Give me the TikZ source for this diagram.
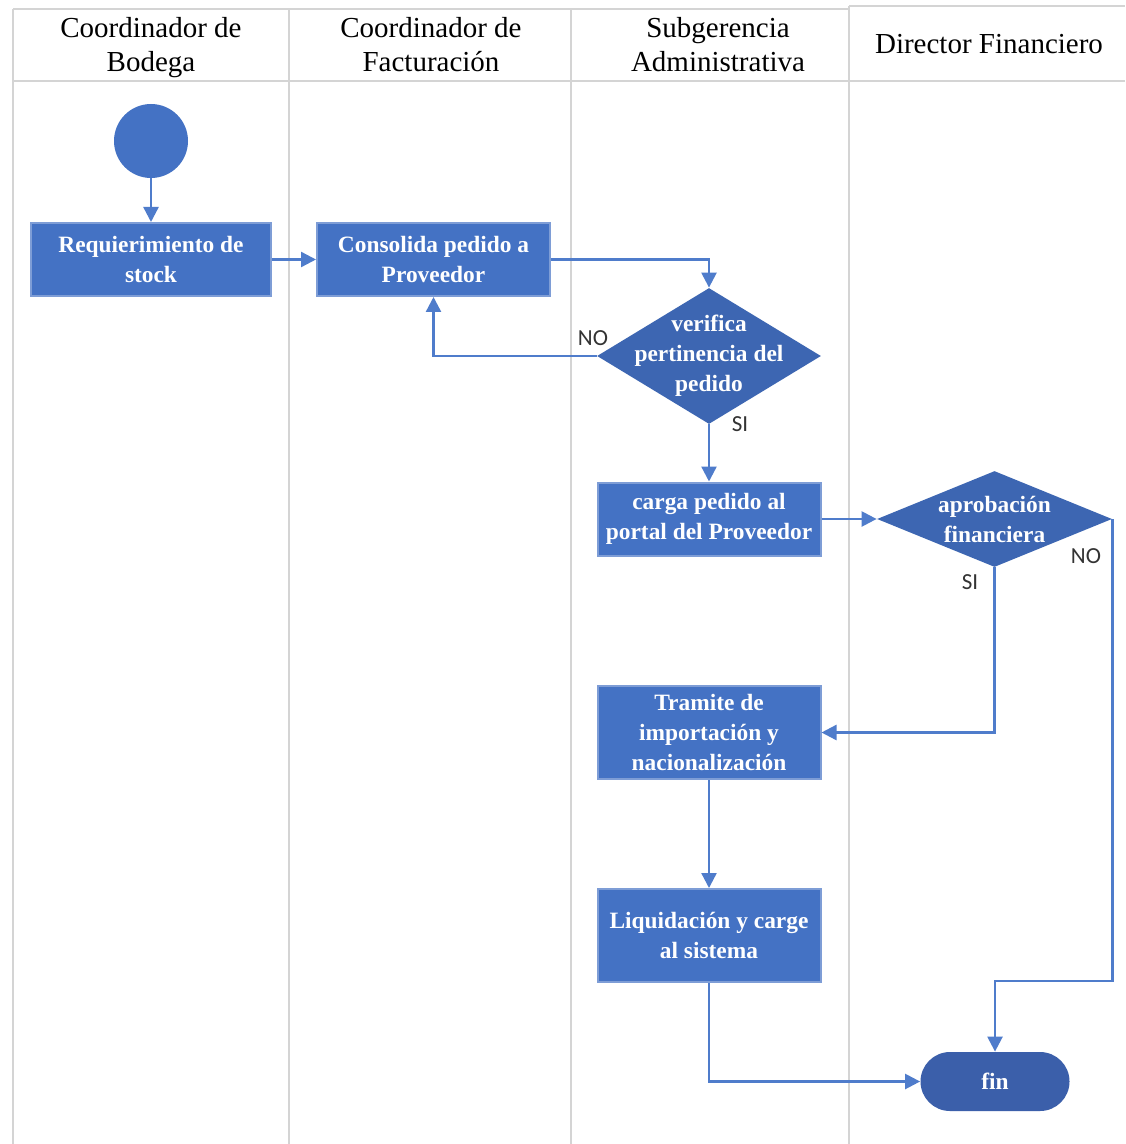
\documentclass[tikz,border=0pt]{standalone}
\usepackage{fontspec}
\setmainfont{Liberation Serif}
\newfontfamily\lblfont{Carlito}
\usetikzlibrary{arrows.meta,shapes.geometric,shapes.misc}
\definecolor{boxblue}{HTML}{4472C4}
\definecolor{boxedge}{HTML}{7E9DD6}
\definecolor{decblue}{HTML}{3D66B2}
\definecolor{endblue}{HTML}{3B5FAA}
\definecolor{flow}{HTML}{4F7CCB}
\definecolor{lane}{HTML}{D4D4D4}
\definecolor{lbl}{HTML}{333333}
\tikzset{
  lanerule/.style={draw=lane, line width=1pt},
  header/.style={font=\fontsize{14.5}{17}\selectfont, align=center, text=black},
  taskbox/.style={rectangle, fill=boxblue, draw=boxedge, line width=1pt, text=white,
    font=\bfseries\fontsize{11.7}{15}\selectfont, align=center, inner sep=0pt},
  decision/.style={diamond, fill=decblue, draw=none, inner sep=0pt,
    minimum width=#1},
  dectext/.style={text=white, font=\bfseries\fontsize{11.7}{15}\selectfont, align=center},
  startnode/.style={circle, fill=boxblue, draw=none, minimum size=37pt, inner sep=0pt},
  endnode/.style={rounded rectangle, fill=endblue, draw=none, text=white,
    font=\bfseries\fontsize{11.7}{15}\selectfont, minimum width=74.5pt, minimum height=29.5pt, inner sep=0pt},
  flowline/.style={draw=flow, line width=1.2pt, -{Triangle[length=7.5pt,width=7.5pt]}},
  branch/.style={text=lbl, font=\lblfont\fontsize{11.5}{13}\selectfont, inner sep=0pt}
}
\begin{document}
\begin{tikzpicture}[x=0.5pt, y=-0.5pt]
\useasboundingbox (0,0) rectangle (1125,1144);
\fill[white] (0,0) rectangle (1125,1144);

% swimlane grid
\draw[lanerule] (13,9) -- (849,9);
\draw[lanerule] (849,6) -- (1125,6);
\draw[lanerule] (13,81) -- (1125,81);
\draw[lanerule] (13,9) -- (13,1144);
\draw[lanerule] (289,9) -- (289,1144);
\draw[lanerule] (571,9) -- (571,1144);
\draw[lanerule] (849,6) -- (849,1144);

% lane titles
\node[header] (h1) at (151,48) {Coordinador de\\Bodega};
\node[header] (h2) at (431,45) {Coordinador de\\Facturación};
\node[header] (h3) at (718,45) {Subgerencia\\Administrativa};
\node[header] (h4) at (989,44) {Director Financiero};

% process nodes
\node[startnode] (start) at (151,141) {};
\node[taskbox, minimum width=120pt, minimum height=36.5pt] (req) at (151,259.5) {Requierimiento de\\stock};
\node[taskbox, minimum width=116.5pt, minimum height=36.5pt] (cons) at (433.5,259.5) {Consolida pedido a\\Proveedor};
\node[decision=112pt, minimum height=68pt,
  label={[dectext]center:{verifica\\pertinencia del\\pedido}}] (ver) at (709,356) {};
\node[taskbox, minimum width=111.5pt, minimum height=36.5pt] (carga) at (709,519) {carga pedido al\\portal del Proveedor};
\node[decision=117.5pt, minimum height=48pt,
  label={[dectext]center:{aprobación\\financiera}}] (apr) at (994.5,519) {};
\node[taskbox, minimum width=111.5pt, minimum height=46.5pt] (tram) at (709,732.5) {Tramite de\\importación y\\nacionalización};
\node[taskbox, minimum width=111.5pt, minimum height=46.5pt] (liq) at (709,935.5) {Liquidación y carge\\al sistema};
\node[endnode] (fin) at (995,1081.5) {fin};

\coordinate (nofin) at (1112,981);

% connectors
\draw[flowline] (start) -- (req);
\draw[flowline] (req) -- (cons);
\draw[flowline] (cons.east) -| (ver.north);
\draw[flowline] (ver.west) -| (cons.south);
\draw[flowline] (ver.south) -- (carga.north);
\draw[flowline] (carga.east) -- (apr.west);
\draw[flowline] (apr.south) |- (tram.east);
\draw[flowline] (apr.east) -- (apr.east |- nofin) -| (fin.north);
\draw[flowline] (tram.south) -- (liq.north);
\draw[flowline] (liq.south) |- (fin.west);

% branch labels
\node[branch] (no1) at (593,338) {NO};
\node[branch] (si1) at (740,424) {SI};
\node[branch] (si2) at (970,582) {SI};
\node[branch] (no2) at (1086,556) {NO};
\end{tikzpicture}
\end{document}
